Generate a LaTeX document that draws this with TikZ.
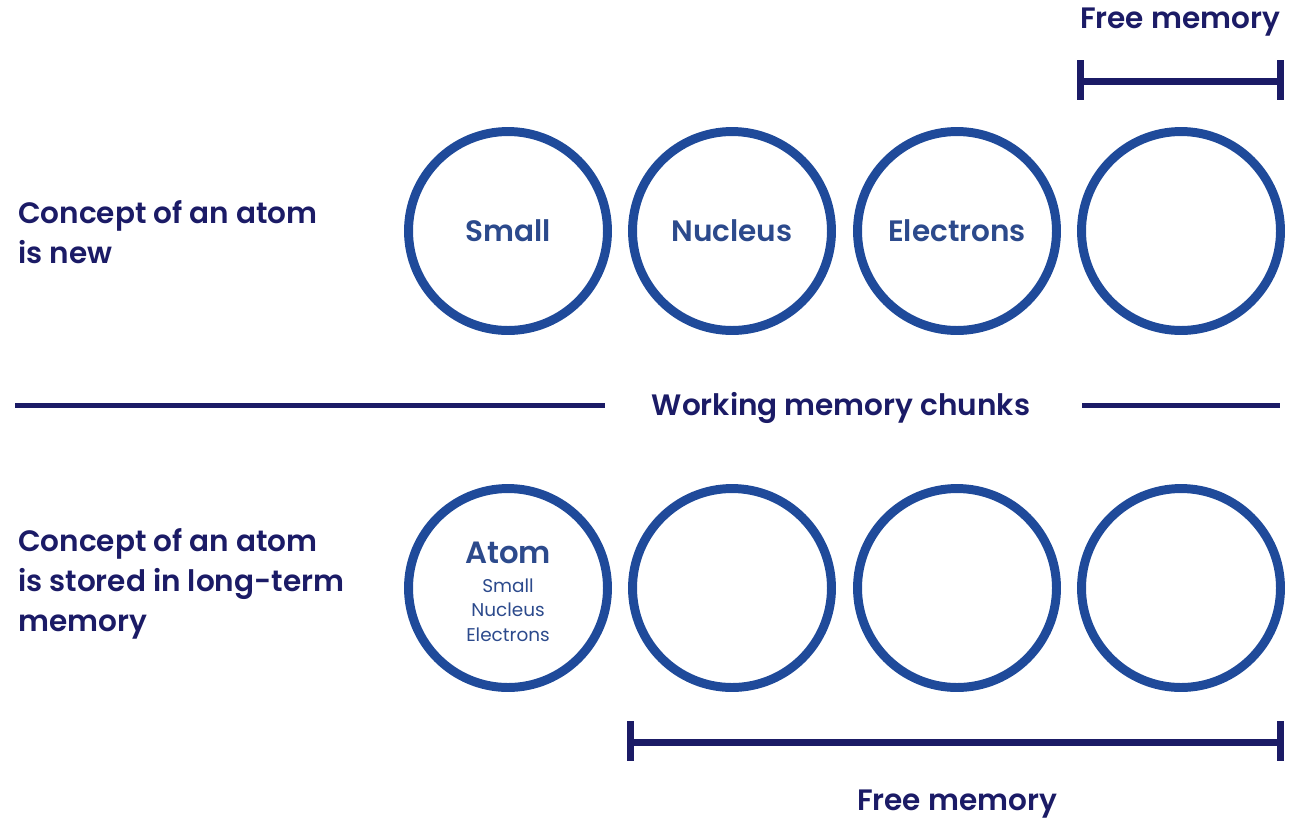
\documentclass[tikz,border=0pt]{standalone}
\usepackage{fontspec}
\setmainfont{Poppins}[BoldFont={Poppins SemiBold}]
\definecolor{ringblue}{HTML}{1F4A9A}
\definecolor{inkblue}{HTML}{2C4A8C}
\definecolor{navy}{HTML}{1B1B66}
\tikzset{
  chunk/.style={circle, draw=ringblue, line width=5.1pt, minimum size=3.98cm, inner sep=0pt,
    text=inkblue, font=\bfseries\fontsize{16.8}{20}\selectfont},
  caption/.style={text=navy, font=\bfseries\fontsize{16.8}{22.7}\selectfont},
  rule/.style={draw=navy, line width=0.1cm},
  span/.style={draw=navy, line width=0.14cm},
}
\begin{document}
\begin{tikzpicture}[x=0.02cm, y=-0.02cm]
   \useasboundingbox (0,0) rectangle (1291,826);
   % first row: atom is new
   \node[caption, anchor=west, align=left] (new) at (12,232) {Concept of an atom\\is new};
   \node[chunk] (c1) at (508,231) {Small};
   \node[chunk] (c2) at (732,231) {Nucleus};
   \node[chunk] (c3) at (957,231) {Electrons};
   \node[chunk] (c4) at (1181,231) {};
   \node[caption] (freetop) at (1180,22) {Free memory};
   \coordinate (ft1) at (1080,81);
   \coordinate (ft2) at (1280,81);
   \draw[span] (ft1) -- (ft2);
   \draw[span] (ft1) ++(0,-21) -- ++(0,40);
   \draw[span] (ft2) ++(0,-21) -- ++(0,40);
   % divider
   \node[caption] (chunks) at (841,408) {Working memory chunks};
   \coordinate (d1) at (15,405);
   \coordinate (d2) at (1280,405);
   \draw[rule] (d1) -- (605,405);
   \draw[rule] (1082,405) -- (d2);
   % second row: atom is stored
   \node[caption, anchor=west, align=left] (stored) at (12,584) {Concept of an atom\\is stored in long-term\\memory};
   \node[chunk] (a1) at (508,588) {};
   \node[align=center, text=inkblue, font=\fontsize{10.5}{14.2}\selectfont] (atom) at ([yshift=-2.3pt]a1.center)
      {\bfseries\fontsize{17.5}{20}\selectfont Atom\\[2pt] Small\\Nucleus\\Electrons};
   \node[chunk] (a2) at (732,588) {};
   \node[chunk] (a3) at (957,588) {};
   \node[chunk] (a4) at (1181,588) {};
   \coordinate (fb1) at (630,742);
   \coordinate (fb2) at (1280,742);
   \draw[span] (fb1) -- (fb2);
   \draw[span] (fb1) ++(0,-21) -- ++(0,40);
   \draw[span] (fb2) ++(0,-21) -- ++(0,40);
   \node[caption] (freebot) at (957,804) {Free memory};
\end{tikzpicture}
\end{document}
